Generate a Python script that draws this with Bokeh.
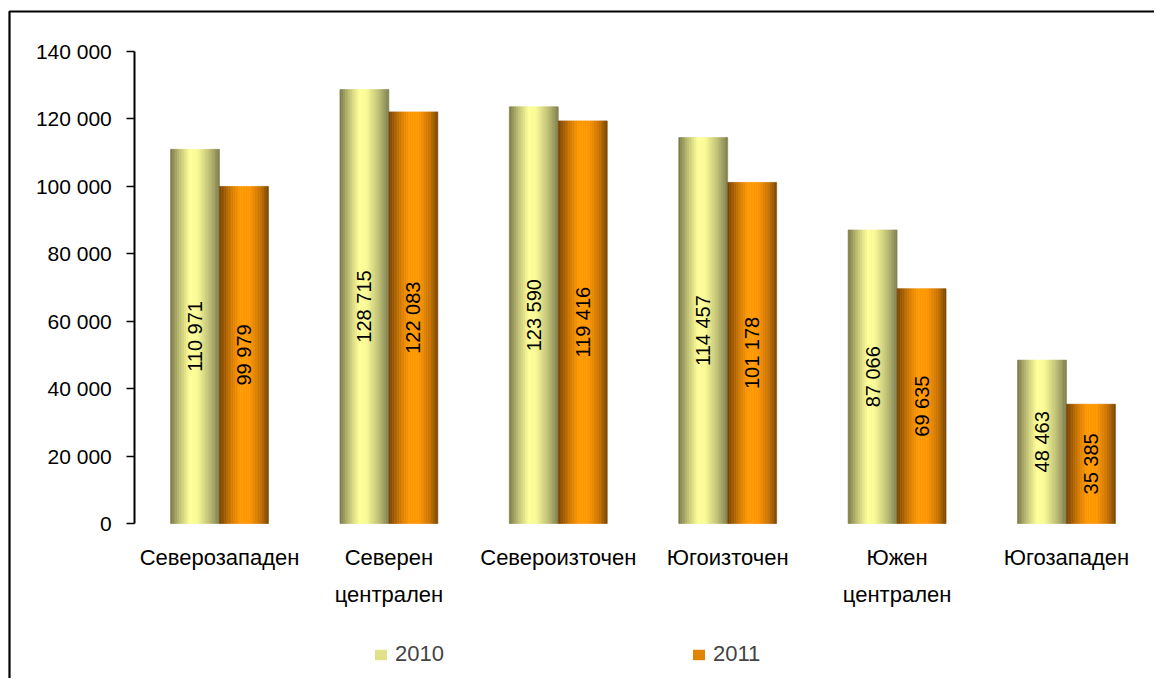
from bokeh.plotting import figure
from bokeh.models import (Range1d, FixedTicker, Legend, LegendItem, ColumnDataSource,
                          LinearAxis, BoxAnnotation)
from bokeh.core.properties import value
from bokeh.embed import file_html
from bokeh.resources import INLINE
import math

# ---- data ----
categories = ["Северозападен", "Северен\nцентрален", "Североизточен",
              "Югоизточен", "Южен\nцентрален", "Югозападен"]
values_2010 = [110971, 128715, 123590, 114457, 87066, 48463]
values_2011 = [99979, 122083, 119416, 101178, 69635, 35385]
labels_2010 = ["110 971", "128 715", "123 590", "114 457", "87 066", "48 463"]
labels_2011 = ["99 979", "122 083", "119 416", "101 178", "69 635", "35 385"]
series_names = ["2010", "2011"]
y_ticks = [0, 20000, 40000, 60000, 80000, 100000, 120000, 140000]
y_tick_labels = ["0", "20 000", "40 000", "60 000", "80 000", "100 000", "120 000", "140 000"]

FONT = "Liberation Sans"

# gradient stops (t, r, g, b)
grad_2010 = [(0.0, 118, 118, 70), (0.18, 188, 188, 113), (0.40, 255, 255, 153),
             (0.55, 250, 250, 150), (0.80, 190, 190, 115), (1.0, 126, 126, 80)]
grad_2011 = [(0.0, 118, 66, 0), (0.25, 212, 123, 0), (0.42, 255, 153, 0),
             (0.62, 255, 150, 0), (0.85, 198, 113, 0), (1.0, 118, 70, 0)]


def grad_color(stops, t):
    for (t0, r0, g0, b0), (t1, r1, g1, b1) in zip(stops[:-1], stops[1:]):
        if t0 <= t <= t1:
            f = (t - t0) / (t1 - t0) if t1 > t0 else 0
            r = round(r0 + (r1 - r0) * f)
            g = round(g0 + (g1 - g0) * f)
            b = round(b0 + (b1 - b0) * f)
            return "#%02x%02x%02x" % (r, g, b)
    r, g, b = stops[-1][1:]
    return "#%02x%02x%02x" % (r, g, b)


W, H = 1154, 678
# frame covers the whole canvas; axes are pinned inside it
p = figure(width=W, height=H, output_backend="svg", toolbar_location=None,
           x_range=Range1d(-1.2928, -1.2928 + W / 169.4),
           y_range=Range1d(140000 + 51 / 0.0033714 - H / 0.0033714, 140000 + 51 / 0.0033714),
           x_axis_location=None, y_axis_location=None,
           min_border=0)
p.outline_line_color = None
p.grid.visible = False
p.background_fill_color = "white"
p.border_fill_color = "white"

bar_w = 0.289
offsets = [-bar_w / 2, bar_w / 2]
N = 28
idx = list(range(len(categories)))

for s, (vals, stops, labs) in enumerate([(values_2010, grad_2010, labels_2010),
                                          (values_2011, grad_2011, labels_2011)]):
    centers = [i + offsets[s] for i in idx]
    sw = bar_w / N
    for k in range(N):
        t = (k + 0.5) / N
        col = grad_color(stops, t)
        xs = [c - bar_w / 2 + (k + 0.5) * sw for c in centers]
        p.vbar(x=xs, top=vals, bottom=0, width=sw, fill_color=col,
               line_color=col, line_width=0.6)
    src = ColumnDataSource(dict(x=centers, y=[v / 2 for v in vals], t=labs))
    p.text(x="x", y="y", text="t", source=src, angle=math.pi / 2,
           text_align="center", text_baseline="middle",
           text_font=value(FONT), text_font_size="20px", text_color="black")

leg_cols = [grad_color(grad_2010, 0.3), grad_color(grad_2011, 0.3)]
leg_items = []
for s, name in enumerate(series_names):
    lr = p.vbar(x=[0], top=[0], bottom=0, width=0, fill_color=leg_cols[s],
                line_color=None)
    leg_items.append(LegendItem(label=name, renderers=[lr]))

legend = Legend(items=leg_items, orientation="horizontal", location=(373, 11),
                glyph_width=15, glyph_height=13, label_standoff=7, spacing=247,
                padding=0, margin=0, border_line_color=None,
                background_fill_alpha=0, label_text_font=FONT,
                label_text_font_size="22px")
p.add_layout(legend, "center")

# y axis pinned at the left edge of the first category slot
yax = LinearAxis(fixed_location=-0.5, bounds=(0, 140000))
yax.ticker = FixedTicker(ticks=y_ticks)
yax.major_label_overrides = {t: l for t, l in zip(y_ticks, y_tick_labels)}
yax.axis_line_width = 2
yax.major_tick_line_width = 1.6
yax.major_tick_out = 8
yax.major_tick_in = 0
yax.minor_tick_line_color = None
yax.major_label_standoff = 15
yax.major_label_text_font = FONT
yax.major_label_text_font_size = "21px"
yax.major_label_text_color = "black"
p.add_layout(yax, "left")

# x axis pinned at y = 0
xax = LinearAxis(fixed_location=0)
xax.ticker = FixedTicker(ticks=idx)
xax.major_label_overrides = {i: c for i, c in zip(idx, categories)}
xax.axis_line_color = None
xax.major_tick_line_color = None
xax.minor_tick_line_color = None
xax.major_tick_out = 0
xax.major_tick_in = 0
xax.major_label_standoff = 22
xax.major_label_text_font = FONT
xax.major_label_text_font_size = "22px"
xax.major_label_text_color = "black"
xax.major_label_text_line_height = 1.45
p.add_layout(xax, "below")

# outer chart border (top and left edges visible)
box = BoxAnnotation(left=9, right=W + 100, top=11, bottom=H + 100,
                    left_units="canvas", right_units="canvas",
                    top_units="canvas", bottom_units="canvas",
                    fill_alpha=0, line_color="black", line_alpha=1.0, line_width=2.2)
p.add_layout(box)

open("out.html", "w").write(file_html(p, INLINE))
